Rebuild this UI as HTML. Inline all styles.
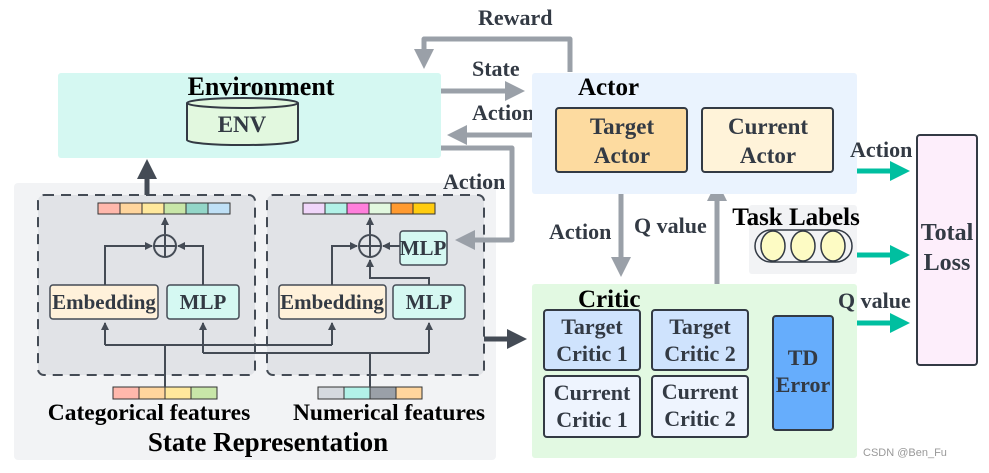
<!DOCTYPE html>
<html><head><meta charset="utf-8"><style>
body{margin:0;background:#fff}
svg text{font-family:"Liberation Serif",serif;font-weight:bold}
</style></head><body>
<svg width="989" height="468" viewBox="0 0 989 468" xmlns="http://www.w3.org/2000/svg">
<defs>
<marker id="g" markerWidth="4" markerHeight="4" refX="3" refY="2" orient="auto" markerUnits="strokeWidth"><path d="M0,0L4,2L0,4z" fill="#9aa0a8"/></marker>
<marker id="t" markerWidth="4" markerHeight="4" refX="3" refY="2" orient="auto" markerUnits="strokeWidth"><path d="M0,0L4,2L0,4z" fill="#00bfa0"/></marker>
<marker id="d" markerWidth="8" markerHeight="8" refX="7" refY="4" orient="auto" markerUnits="userSpaceOnUse"><path d="M0,0L8,4L0,8z" fill="#444b55"/></marker>
<marker id="D" markerWidth="4" markerHeight="4" refX="3" refY="2" orient="auto" markerUnits="strokeWidth"><path d="M0,0L4,2L0,4z" fill="#444b55"/></marker>
</defs>
<rect x="14" y="183" width="482" height="277" rx="4" fill="#f2f3f5"/>
<rect x="38" y="195" width="217" height="180" rx="6" fill="#e1e3e7" stroke="#444b55" stroke-width="2" stroke-dasharray="10,7"/>
<rect x="267" y="195" width="217" height="180" rx="6" fill="#e1e3e7" stroke="#444b55" stroke-width="2" stroke-dasharray="10,7"/>
<g stroke="#333" stroke-width="1">
<rect x="98" y="203" width="22" height="11" fill="#ffb8ac"/><rect x="120" y="203" width="22" height="11" fill="#ffd59d"/><rect x="142" y="203" width="22" height="11" fill="#ffe89c"/><rect x="164" y="203" width="22" height="11" fill="#c8e6a8"/><rect x="186" y="203" width="22" height="11" fill="#93d6c8"/><rect x="208" y="203" width="22" height="11" fill="#bfe0f6"/>
<rect x="303" y="203" width="22" height="11" fill="#f0d6fa"/><rect x="325" y="203" width="22" height="11" fill="#b2f2e8"/><rect x="347" y="203" width="22" height="11" fill="#ff7fdc"/><rect x="369" y="203" width="22" height="11" fill="#e2f8df"/><rect x="391" y="203" width="22" height="11" fill="#ff9a30"/><rect x="413" y="203" width="22" height="11" fill="#ffcc10"/>
<rect x="113" y="387" width="26" height="12" fill="#ffb8ac"/><rect x="139" y="387" width="26" height="12" fill="#ffd59d"/><rect x="165" y="387" width="26" height="12" fill="#ffe89c"/><rect x="191" y="387" width="26" height="12" fill="#c8e6a8"/>
<rect x="318" y="387" width="26" height="12" fill="#d5d9de"/><rect x="344" y="387" width="26" height="12" fill="#b2f2e8"/><rect x="370" y="387" width="26" height="12" fill="#9aa0a8"/><rect x="396" y="387" width="26" height="12" fill="#ffd59d"/>
</g>
<g fill="none" stroke="#444b55" stroke-width="2">
<circle cx="165" cy="246" r="11"/><path d="M154,246H176M165,235V257"/>
<circle cx="370" cy="246" r="11"/><path d="M359,246H381M370,235V257"/>
<path d="M165,234V218" marker-end="url(#d)"/><path d="M370,234V218" marker-end="url(#d)"/>
<path d="M105,285V246H152" marker-end="url(#d)"/><path d="M203,285V246H178" marker-end="url(#d)"/>
<path d="M332,285V246H357" marker-end="url(#d)"/><path d="M400,246H383" marker-end="url(#d)"/>
<path d="M429,285V278H370V260" marker-end="url(#d)"/>
<path d="M165,387V345"/><path d="M105,345H332"/><path d="M105,345V323" marker-end="url(#d)"/><path d="M332,345V323" marker-end="url(#d)"/>
<path d="M370,387V353"/><path d="M203,353H429"/><path d="M203,353V323" marker-end="url(#d)"/><path d="M429,353V323" marker-end="url(#d)"/>
</g>
<g stroke="#444b55" stroke-width="1.5">
<rect x="50" y="285" width="108" height="34" rx="3" fill="#fff1da"/><rect x="167" y="285" width="72" height="34" rx="3" fill="#d5f8f2"/>
<rect x="279" y="285" width="107" height="34" rx="3" fill="#fff1da"/><rect x="393" y="285" width="72" height="34" rx="3" fill="#d5f8f2"/>
<rect x="400" y="231" width="47" height="34" rx="3" fill="#d5f8f2"/>
</g>
<g fill="#333a44" font-size="21" text-anchor="middle">
<text x="104" y="309">Embedding</text><text x="203" y="309">MLP</text>
<text x="332" y="309">Embedding</text><text x="429" y="309">MLP</text><text x="423" y="255">MLP</text>
</g>
<g fill="#000" text-anchor="middle">
<text x="149" y="420" font-size="23.5">Categorical features</text>
<text x="389" y="420" font-size="23.5">Numerical features</text>
<text x="268" y="451" font-size="27">State Representation</text>
</g>
<path d="M147,195V164" stroke="#444b55" stroke-width="5" marker-end="url(#D)"/>
<path d="M484,339H522" stroke="#444b55" stroke-width="5" marker-end="url(#D)"/>
<rect x="58" y="73" width="383" height="85" rx="3" fill="#d5f8f2"/>
<text x="261" y="95" font-size="26" text-anchor="middle" fill="#000">Environment</text>
<path d="M187,103V140A55,5 0 0 0 298,140V103" fill="#e2f8df" stroke="#333a44" stroke-width="2"/>
<ellipse cx="242.5" cy="103" rx="55.5" ry="5" fill="#e2f8df" stroke="#333a44" stroke-width="2"/>
<text x="242" y="132" font-size="23" text-anchor="middle" fill="#333a44">ENV</text>
<g fill="none" stroke="#9aa0a8" stroke-width="5">
<path d="M570,72V39H424V64" stroke-linejoin="round" marker-end="url(#g)"/>
<path d="M441,91H520" marker-end="url(#g)"/>
<path d="M532,135H452" marker-end="url(#g)"/>
<path d="M441,148H512V240H460" stroke-linejoin="round" marker-end="url(#g)"/>
<path d="M621,172V272" marker-end="url(#g)"/>
<path d="M717,284V186" marker-end="url(#g)"/>
</g>
<g fill="#333a44" font-size="22">
<text x="478" y="25">Reward</text><text x="472" y="76">State</text><text x="472" y="120">Action</text><text x="443" y="189">Action</text>
<text x="549" y="239">Action</text><text x="634" y="233">Q value</text>
</g>
<rect x="532" y="73" width="325" height="121" rx="3" fill="#eaf3fe"/>
<text x="578" y="95" font-size="25" fill="#000">Actor</text>
<rect x="556" y="108" width="131" height="64" rx="3" fill="#fddba0" stroke="#333a44" stroke-width="2"/>
<rect x="702" y="108" width="131" height="64" rx="3" fill="#fff3d9" stroke="#333a44" stroke-width="2"/>
<g fill="#333a44" font-size="23" text-anchor="middle">
<text x="622" y="134">Target</text><text x="622" y="163">Actor</text>
<text x="768" y="134">Current</text><text x="768" y="163">Actor</text>
</g>
<rect x="532" y="284" width="325" height="174" rx="3" fill="#e2f9e2"/>
<text x="578" y="307" font-size="25" fill="#000">Critic</text>
<g stroke="#333a44" stroke-width="2">
<rect x="544" y="310" width="96" height="60" rx="3" fill="#cfe3fd"/><rect x="652" y="310" width="96" height="60" rx="3" fill="#cfe3fd"/>
<rect x="544" y="376" width="96" height="61" rx="3" fill="#eef4fe"/><rect x="652" y="376" width="96" height="61" rx="3" fill="#eef4fe"/>
<rect x="773" y="316" width="60" height="114" rx="3" fill="#66adfc"/>
</g>
<g fill="#333a44" font-size="22" text-anchor="middle">
<text x="592" y="334">Target</text><text x="592" y="361">Critic 1</text>
<text x="700" y="334">Target</text><text x="700" y="361">Critic 2</text>
<text x="592" y="400">Current</text><text x="592" y="427">Critic 1</text>
<text x="700" y="399">Current</text><text x="700" y="426">Critic 2</text>
<text x="803" y="365">TD</text><text x="803" y="392">Error</text>
</g>
<rect x="749" y="205" width="108" height="69" rx="3" fill="#f2f3f5"/>
<text x="796" y="225" font-size="25" fill="#000" text-anchor="middle">Task Labels</text>
<rect x="755" y="230" width="97" height="32" rx="16" fill="#f2f3f5" stroke="#333a44" stroke-width="1.5"/>
<g fill="#fdfbc4" stroke="#333a44" stroke-width="1.5">
<ellipse cx="773" cy="246" rx="12" ry="15"/><ellipse cx="803" cy="246" rx="12" ry="15"/><ellipse cx="833" cy="246" rx="12" ry="15"/>
</g>
<rect x="917" y="135" width="60" height="230" rx="3" fill="#fdeefb" stroke="#333a44" stroke-width="2"/>
<g fill="#333a44" font-size="24" text-anchor="middle"><text x="947" y="240">Total</text><text x="947" y="270">Loss</text></g>
<g stroke="#00bfa0" stroke-width="5"><path d="M857,171H905" marker-end="url(#t)"/><path d="M857,255H905" marker-end="url(#t)"/><path d="M857,323H905" marker-end="url(#t)"/></g>
<g fill="#333a44" font-size="22"><text x="850" y="157">Action</text><text x="838" y="308">Q value</text></g>
<text x="863" y="456" font-size="11" fill="#999" style="font-family:'Liberation Sans',sans-serif;font-weight:normal">CSDN @Ben_Fu</text>
</svg>
</body></html>
